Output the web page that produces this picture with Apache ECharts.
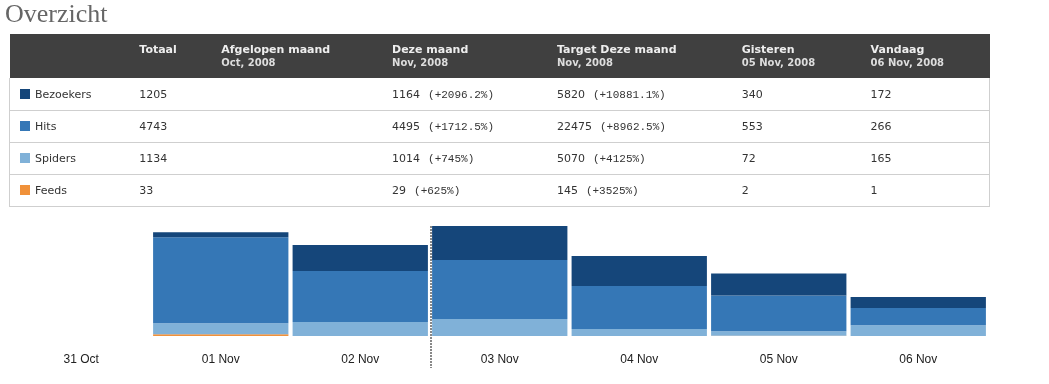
<!DOCTYPE html>
<html>
<head>
<meta charset="utf-8">
<script src="https://cdn.jsdelivr.net/npm/echarts@6/dist/echarts.min.js"></script>
<style>
  html, body { margin:0; padding:0; background:#fff; width:1049px; height:384px; overflow:hidden; }
  #chart { position:absolute; left:0; top:0; width:1049px; height:384px; }
  #title { position:absolute; left:5px; top:-1px; font-family:"Liberation Serif", serif; font-size:26px; color:#666; z-index:2; }
  #tbl { position:absolute; left:9px; top:34px; width:981px; border-collapse:collapse; z-index:2; font-family:"DejaVu Sans", Verdana, sans-serif; }
  #tbl th { background:#404040; color:#eee; font-size:11px; font-weight:bold; text-align:left; vertical-align:top; height:44px; padding:9px 0 0 0; box-sizing:border-box; line-height:13px; }
  #tbl th .sub { font-size:10px; color:#ddd; }
  #tbl td { height:32px; border-bottom:1px solid #cfcfcf; font-size:11px; color:#333; padding:0; padding-top:1px; box-sizing:border-box; }
  #tbl tr td:first-child { border-left:1px solid #cfcfcf; }
  #tbl tr td:last-child { border-right:1px solid #cfcfcf; }
  .sq { display:inline-block; width:10px; height:10px; vertical-align:-1px; margin:0 5px 0 10px; }
  .pct { font-family:"Liberation Mono", monospace; font-size:11px; color:#333; margin-left:8px; }
</style>
</head>
<body>
<div id="chart"></div>
<div id="title">Overzicht</div>
<table id="tbl"><thead><tr id="hdr"></tr></thead><tbody id="tbody"></tbody></table>
<script>
// ---- chart data ----
const categories = ['31 Oct', '01 Nov', '02 Nov', '03 Nov', '04 Nov', '05 Nov', '06 Nov'];
const bezoekers = [0, 77, 402, 525, 464, 340, 172];
const hits      = [0, 1329, 788, 912, 664, 553, 266];
const spiders   = [0, 170, 216, 263, 108, 72, 165];
const feeds     = [0, 26, 0, 0, 0, 2, 1];

// ---- table data ----
const seriesNames   = ['Bezoekers', 'Hits', 'Spiders', 'Feeds'];
const seriesColors  = ['#15467a', '#3577b6', '#80b1d8', '#f0913a'];
const headTitles    = ['', 'Totaal', 'Afgelopen maand', 'Deze maand', 'Target Deze maand', 'Gisteren', 'Vandaag'];
const headSubs      = ['', '', 'Oct, 2008', 'Nov, 2008', 'Nov, 2008', '05 Nov, 2008', '06 Nov, 2008'];
const colWidths     = [130, 82, 171, 165, 185, 129, 119];
const totaal        = ['1205', '4743', '1134', '33'];
const afgelopen     = ['', '', '', ''];
const dezeMaand     = ['1164', '4495', '1014', '29'];
const dezeMaandPct  = ['(+2096.2%)', '(+1712.5%)', '(+745%)', '(+625%)'];
const target        = ['5820', '22475', '5070', '145'];
const targetPct     = ['(+10881.1%)', '(+8962.5%)', '(+4125%)', '(+3525%)'];
const gisteren      = ['340', '553', '72', '2'];
const vandaag       = ['172', '266', '165', '1'];

// build table
const hdr = document.getElementById('hdr');
headTitles.forEach((t, i) => {
  const th = document.createElement('th');
  th.style.width = colWidths[i] + 'px';
  th.innerHTML = t + (headSubs[i] ? '<br><span class="sub">' + headSubs[i] + '</span>' : '');
  hdr.appendChild(th);
});
const tbody = document.getElementById('tbody');
seriesNames.forEach((n, r) => {
  const tr = document.createElement('tr');
  const cells = [
    '<span class="sq" style="background:' + seriesColors[r] + '"></span>' + n,
    totaal[r],
    afgelopen[r],
    dezeMaand[r] + '<span class="pct">' + dezeMaandPct[r] + '</span>',
    target[r] + '<span class="pct">' + targetPct[r] + '</span>',
    gisteren[r],
    vandaag[r]
  ];
  cells.forEach(c => { const td = document.createElement('td'); td.innerHTML = c; tr.appendChild(td); });
  tbody.appendChild(tr);
});

// ---- chart ----
const chart = echarts.init(document.getElementById('chart'));
const mk = (name, data, color) => ({
  name, type: 'bar', stack: 'total', data, barCategoryGap: '3%',
  itemStyle: { color }, emphasis: { disabled: true }, animation: false
});
chart.setOption({
  animation: false,
  grid: { left: 11.5, right: 61, top: 226, bottom: 48, containLabel: false },
  xAxis: {
    type: 'category', data: categories,
    axisLine: { show: false }, axisTick: { show: false },
    axisLabel: { color: '#222', fontFamily: 'Liberation Sans, Arial, sans-serif', fontSize: 12, margin: 18 }
  },
  yAxis: { type: 'value', min: 0, max: 1700, show: false, splitLine: { show: false } },
  series: [
    mk('Feeds', feeds, seriesColors[3]),
    mk('Spiders', spiders, seriesColors[2]),
    mk('Hits', hits, seriesColors[1]),
    mk('Bezoekers', bezoekers, seriesColors[0])
  ]
});
// dotted separator between 02 Nov and 03 Nov
const xa = chart.convertToPixel({ xAxisIndex: 0 }, 2);
const xb = chart.convertToPixel({ xAxisIndex: 0 }, 3);
const yTop = chart.convertToPixel({ yAxisIndex: 0 }, 1700);
const yBase = chart.convertToPixel({ yAxisIndex: 0 }, 0);
const xm = Math.round((xa + xb) / 2) + 1;
chart.setOption({
  graphic: [{
    type: 'line', z: 100,
    shape: { x1: xm, y1: yTop, x2: xm, y2: yBase + 32 },
    style: { stroke: '#888', lineWidth: 2, lineDash: [2, 1] }
  }]
});
</script>
</body>
</html>
